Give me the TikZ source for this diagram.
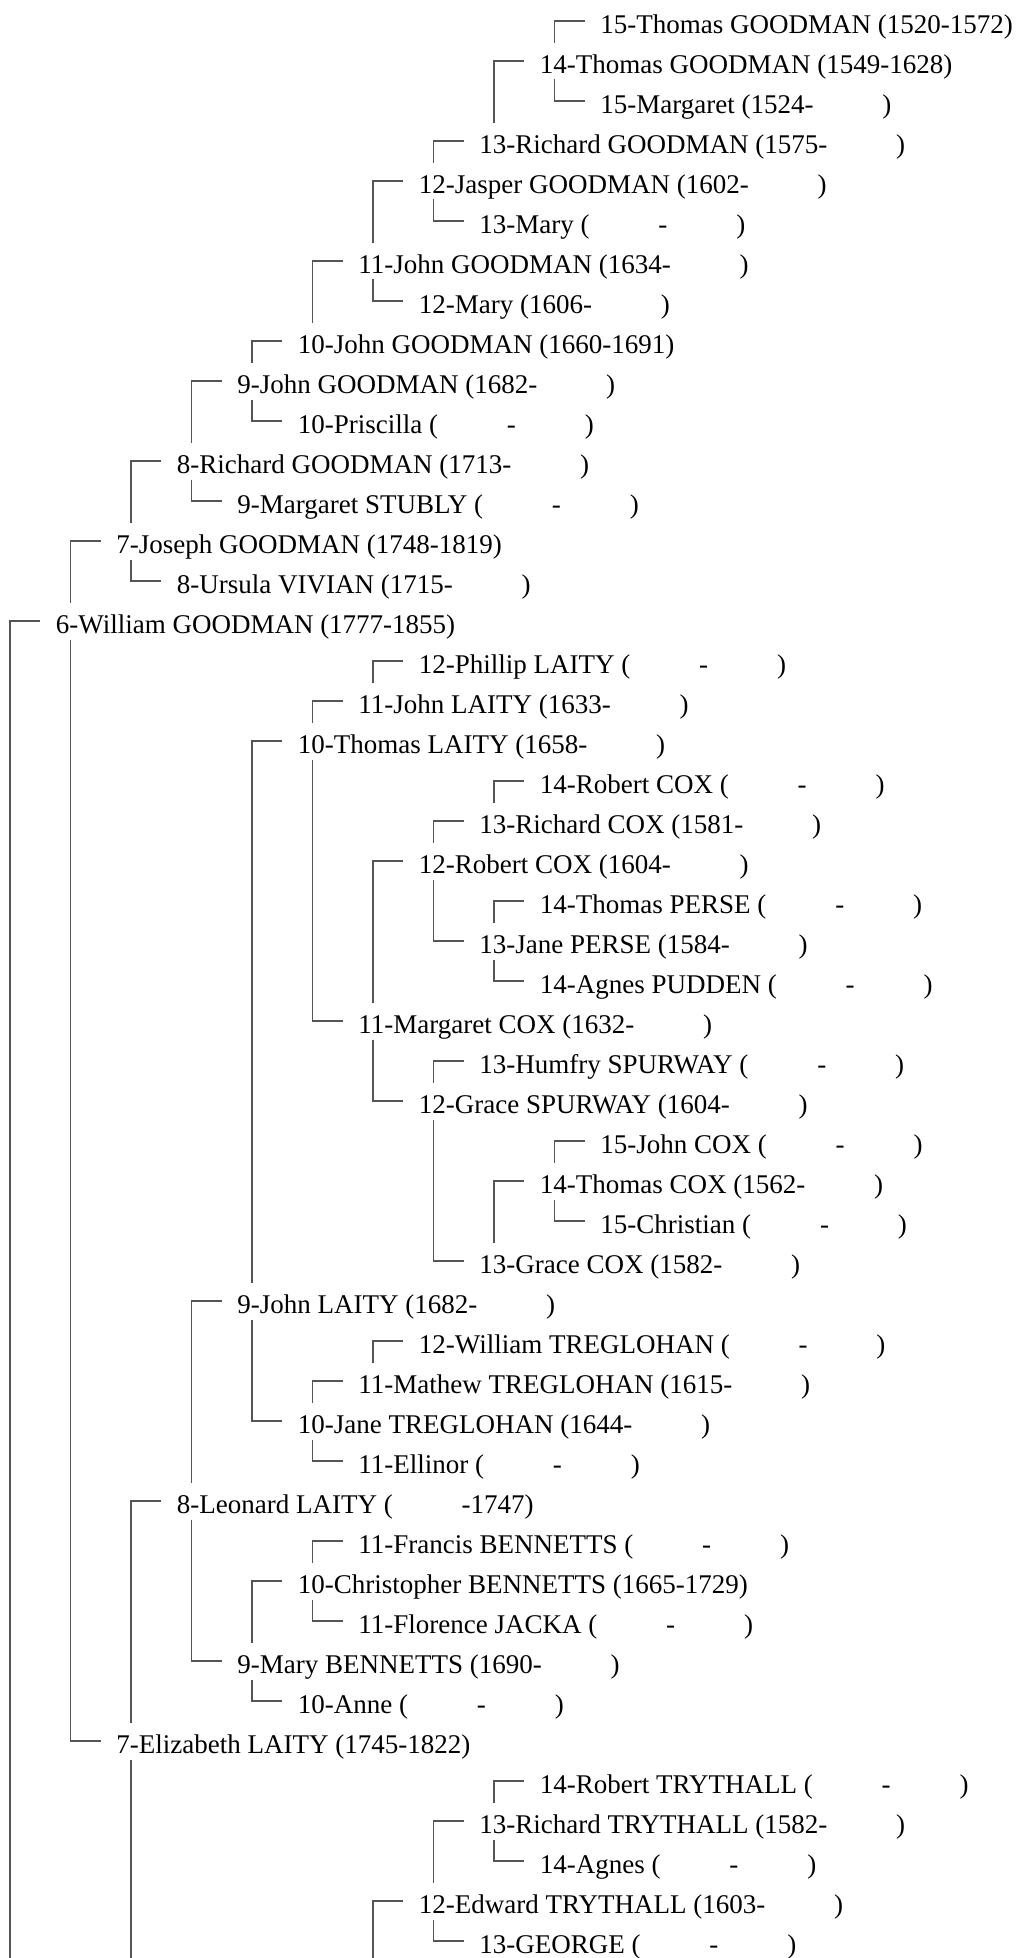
\documentclass[tikz,border=0pt]{standalone}
\usepackage{fontspec}
\setmainfont{Liberation Serif}
\definecolor{conncol}{RGB}{85,85,85}
\tikzset{
  pers/.style={anchor=base west, inner sep=0pt, text height=30pt, text depth=6pt,
               font=\fontsize{27}{32}\selectfont},
  conn/.style={draw=conncol, line width=1.5pt}
}
\newcommand\bl{\hspace*{2.55em}}
% person: id, generation, row, text
\newcommand\pers[4]{%
  \node[pers] (#1) at ({55.7+60.5*(#2-6)},{33.3+40*#3}) {#4};
  \coordinate (#1v) at ([shift={(-45.5,-12.5)}]#1.base west);
  \coordinate (#1h) at ([shift={(-15.5,-12.5)}]#1.base west);
  \coordinate (#1d) at ([xshift=15pt]#1.south west);
}
% father F above child C
\newcommand\fa[2]{\draw[conn] (#1h) -- (#1v) -- (#1v |- #2.north);}
% child C to mother M below
\newcommand\mo[2]{\draw[conn] (#1d) -- (#1d |- #2v) -- (#2h);}
\begin{document}
\begin{tikzpicture}[x=1pt,y=-1pt]
\fill[white] (0,0) rectangle (1021,1958);
\useasboundingbox (0,0) rectangle (1021,1958);
\pers{r0}{15}{0}{15-Thomas GOODMAN (1520-1572)}
\pers{r1}{14}{1}{14-Thomas GOODMAN (1549-1628)}
\pers{r2}{15}{2}{15-Margaret (1524-\bl)}
\pers{r3}{13}{3}{13-Richard GOODMAN (1575-\bl)}
\pers{r4}{12}{4}{12-Jasper GOODMAN (1602-\bl)}
\pers{r5}{13}{5}{13-Mary (\bl-\bl)}
\pers{r6}{11}{6}{11-John GOODMAN (1634-\bl)}
\pers{r7}{12}{7}{12-Mary (1606-\bl)}
\pers{r8}{10}{8}{10-John GOODMAN (1660-1691)}
\pers{r9}{9}{9}{9-John GOODMAN (1682-\bl)}
\pers{r10}{10}{10}{10-Priscilla (\bl-\bl)}
\pers{r11}{8}{11}{8-Richard GOODMAN (1713-\bl)}
\pers{r12}{9}{12}{9-Margaret STUBLY (\bl-\bl)}
\pers{r13}{7}{13}{7-Joseph GOODMAN (1748-1819)}
\pers{r14}{8}{14}{8-Ursula VIVIAN (1715-\bl)}
\pers{r15}{6}{15}{6-William GOODMAN (1777-1855)}
\pers{r16}{12}{16}{12-Phillip LAITY (\bl-\bl)}
\pers{r17}{11}{17}{11-John LAITY (1633-\bl)}
\pers{r18}{10}{18}{10-Thomas LAITY (1658-\bl)}
\pers{r19}{14}{19}{14-Robert COX (\bl-\bl)}
\pers{r20}{13}{20}{13-Richard COX (1581-\bl)}
\pers{r21}{12}{21}{12-Robert COX (1604-\bl)}
\pers{r22}{14}{22}{14-Thomas PERSE (\bl-\bl)}
\pers{r23}{13}{23}{13-Jane PERSE (1584-\bl)}
\pers{r24}{14}{24}{14-Agnes PUDDEN (\bl-\bl)}
\pers{r25}{11}{25}{11-Margaret COX (1632-\bl)}
\pers{r26}{13}{26}{13-Humfry SPURWAY (\bl-\bl)}
\pers{r27}{12}{27}{12-Grace SPURWAY (1604-\bl)}
\pers{r28}{15}{28}{15-John COX (\bl-\bl)}
\pers{r29}{14}{29}{14-Thomas COX (1562-\bl)}
\pers{r30}{15}{30}{15-Christian (\bl-\bl)}
\pers{r31}{13}{31}{13-Grace COX (1582-\bl)}
\pers{r32}{9}{32}{9-John LAITY (1682-\bl)}
\pers{r33}{12}{33}{12-William TREGLOHAN (\bl-\bl)}
\pers{r34}{11}{34}{11-Mathew TREGLOHAN (1615-\bl)}
\pers{r35}{10}{35}{10-Jane TREGLOHAN (1644-\bl)}
\pers{r36}{11}{36}{11-Ellinor (\bl-\bl)}
\pers{r37}{8}{37}{8-Leonard LAITY (\bl-1747)}
\pers{r38}{11}{38}{11-Francis BENNETTS (\bl-\bl)}
\pers{r39}{10}{39}{10-Christopher BENNETTS (1665-1729)}
\pers{r40}{11}{40}{11-Florence JACKA (\bl-\bl)}
\pers{r41}{9}{41}{9-Mary BENNETTS (1690-\bl)}
\pers{r42}{10}{42}{10-Anne (\bl-\bl)}
\pers{r43}{7}{43}{7-Elizabeth LAITY (1745-1822)}
\pers{r44}{14}{44}{14-Robert TRYTHALL (\bl-\bl)}
\pers{r45}{13}{45}{13-Richard TRYTHALL (1582-\bl)}
\pers{r46}{14}{46}{14-Agnes (\bl-\bl)}
\pers{r47}{12}{47}{12-Edward TRYTHALL (1603-\bl)}
\pers{r48}{13}{48}{13-GEORGE (\bl-\bl)}
% fathers
\fa{r0}{r1}\fa{r1}{r3}\fa{r3}{r4}\fa{r4}{r6}\fa{r6}{r8}\fa{r8}{r9}
\fa{r9}{r11}\fa{r11}{r13}\fa{r13}{r15}\fa{r16}{r17}\fa{r17}{r18}
\fa{r18}{r32}\fa{r19}{r20}\fa{r20}{r21}\fa{r21}{r25}\fa{r22}{r23}
\fa{r26}{r27}\fa{r28}{r29}\fa{r29}{r31}\fa{r32}{r37}\fa{r33}{r34}
\fa{r34}{r35}\fa{r37}{r43}\fa{r38}{r39}\fa{r39}{r41}\fa{r44}{r45}
\fa{r45}{r47}
% mothers
\mo{r1}{r2}\mo{r4}{r5}\mo{r6}{r7}\mo{r9}{r10}\mo{r11}{r12}\mo{r13}{r14}
\mo{r15}{r43}\mo{r18}{r25}\mo{r21}{r23}\mo{r23}{r24}\mo{r25}{r27}
\mo{r27}{r31}\mo{r29}{r30}\mo{r32}{r35}\mo{r35}{r36}\mo{r37}{r41}
\mo{r39}{r40}\mo{r41}{r42}\mo{r45}{r46}\mo{r47}{r48}
% lines running off the bottom edge
\coordinate (bot) at (0,1958);
\draw[conn] (r15h) -- (r15v) -- (r15v |- bot);
\draw[conn] (r43d) -- (r43d |- bot);
\draw[conn] (r47h) -- (r47v) -- (r47v |- bot);
\end{tikzpicture}
\end{document}
